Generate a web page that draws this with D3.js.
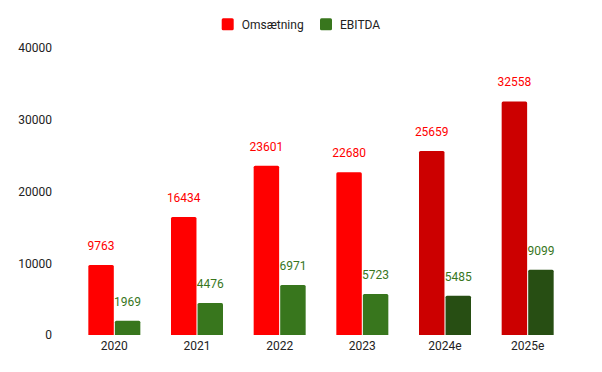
<!DOCTYPE html>
<html><head><meta charset="utf-8">
<script src="https://cdn.jsdelivr.net/npm/d3@7"></script>
<style>body{margin:0;background:#fff;font-family:Roboto,sans-serif}</style>
</head><body><svg id="c" width="602" height="372"></svg>
<script>
const categories = ["2020","2021","2022","2023","2024e","2025e"];
const seriesNames = ["Omsætning","EBITDA"];
const omsaetning = [9763,16434,23601,22680,25659,32558];
const ebitda = [1969,4476,6971,5723,5485,9099];
const yTicks = [0,10000,20000,30000,40000];
const estimated = [false,false,false,false,true,true];

const barColors = {Omsætning:["#ff0000","#cc0000"], EBITDA:["#38761d","#274e13"]};
const labelColors = {Omsætning:"#ff0000", EBITDA:"#38761d"};

const svg = d3.select("#c");
const x0 = d3.scaleBand().domain(categories).range([73,569]).paddingInner(0).paddingOuter(0);
const groupW = 52;
const x1 = d3.scaleBand().domain(seriesNames).range([0,groupW]).paddingInner(0.04);
const y = d3.scaleLinear().domain([0,40000]).range([335,48]);

const yAxis = d3.axisLeft(y).tickValues(yTicks).tickSize(0).tickPadding(0).tickFormat(d3.format("d"));
const ga = svg.append("g").attr("transform","translate(52,0)").call(yAxis);
ga.select(".domain").remove();
ga.selectAll("text").attr("font-family","Roboto").attr("font-size",12).attr("fill","#222");

const xAxis = d3.axisBottom(x0).tickSize(0).tickPadding(6);
const gx = svg.append("g").attr("transform","translate(0,335)").call(xAxis);
gx.select(".domain").remove();
gx.selectAll("text").attr("font-family","Roboto").attr("font-size",12).attr("fill","#222");

const data = categories.map((c,i)=>({cat:c, est:estimated[i], vals:[{s:"Omsætning",v:omsaetning[i]},{s:"EBITDA",v:ebitda[i]}]}));
const groups = svg.selectAll(".grp").data(data).join("g")
  .attr("transform",d=>`translate(${x0(d.cat)+x0.bandwidth()/2-groupW/2},0)`);
groups.selectAll("path").data(d=>d.vals.map(v=>({...v,est:d.est}))).join("path")
  .attr("d",d=>{
    const x=x1(d.s), w=x1.bandwidth(), top=y(d.v), bot=y(0), r=1.5;
    return `M${x},${bot}V${top+r}Q${x},${top} ${x+r},${top}H${x+w-r}Q${x+w},${top} ${x+w},${top+r}V${bot}Z`;
  })
  .attr("fill",d=>barColors[d.s][d.est?1:0]);
groups.selectAll("text").data(d=>d.vals).join("text")
  .attr("x",d=>x1(d.s)+x1.bandwidth()/2)
  .attr("y",d=>y(d.v)-15)
  .attr("text-anchor","middle")
  .attr("font-family","Roboto").attr("font-size",12)
  .attr("fill",d=>labelColors[d.s])
  .text(d=>d.v);

// legend
const leg = svg.append("g");
const legX = [221.7,320];
seriesNames.forEach((s,i)=>{
  leg.append("rect").attr("x",legX[i]).attr("y",18.3).attr("width",12).attr("height",12).attr("rx",1.5).attr("fill",barColors[s][0]);
  leg.append("text").attr("x",legX[i]+20).attr("y",24.3).attr("dy","0.35em")
    .attr("font-family","Roboto").attr("font-size",12).attr("fill","#222").text(s);
});
</script></body></html>
